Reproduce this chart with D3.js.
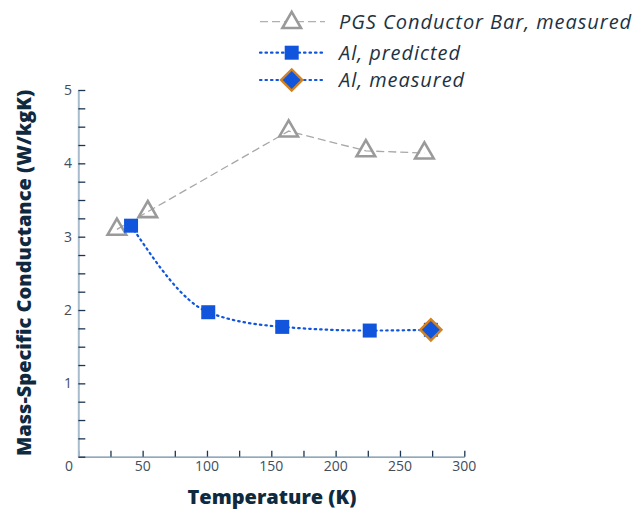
<!DOCTYPE html>
<html><head><meta charset="utf-8">
<script src="https://cdn.jsdelivr.net/npm/d3@7"></script>
<style>body{margin:0;background:#fff}svg{display:block}</style>
</head><body>
<svg id="c" width="636" height="512"></svg>
<script>
const pgsT = [30, 54, 163.5, 223.5, 269];
const pgsV = [3.10, 3.34, 4.44, 4.17, 4.14];
const alPredT = [41, 101, 158.5, 226.5, 274];
const alPredV = [3.15, 1.97, 1.77, 1.72, 1.73];
const alMeasT = [274];
const alMeasV = [1.73];
const xTicks = [0, 50, 100, 150, 200, 250, 300];
const yTicks = [1, 2, 3, 4, 5];
const legendLabels = ["PGS Conductor Bar, measured", "Al, predicted", "Al, measured"];

const svg = d3.select("#c");
const font = "'Open Sans', Lato, sans-serif";
const x = d3.scaleLinear().domain([0, 300]).range([78.3, 464.3]);
const y = d3.scaleLinear().domain([0, 5]).range([456.7, 90]);

// axes
const gx = svg.append("g").attr("transform", `translate(0,${y(0)})`)
  .call(d3.axisBottom(x).tickValues(d3.range(0, 301, 25)).tickSizeInner(-6).tickSizeOuter(0).tickFormat(""));
gx.select(".domain").attr("stroke", "#6f8ba6").attr("stroke-width", 1.3);
gx.selectAll(".tick line").attr("stroke", "#1b3552").attr("stroke-width", 1.3);
const gy = svg.append("g").attr("transform", `translate(${x(0)},0)`)
  .call(d3.axisLeft(y).tickValues(d3.range(0, 5.01, 0.25)).tickSizeInner(-7).tickSizeOuter(0).tickFormat(""));
gy.select(".domain").attr("stroke", "#a9bccd").attr("stroke-width", 2);
gy.selectAll(".tick line").attr("stroke", "#1b3552").attr("stroke-width", 1.3);

const labCol = "#3f4e5b";
svg.append("g").selectAll("text").data(xTicks.filter(d => d > 0)).join("text")
  .attr("x", d => x(d)).attr("y", 471).attr("text-anchor", "middle")
  .attr("font-family", font).attr("font-size", 14).attr("fill", labCol).text(d => d);
svg.append("g").selectAll("text").data(yTicks).join("text")
  .attr("x", 72).attr("y", d => y(d) + 5).attr("text-anchor", "end")
  .attr("font-family", font).attr("font-size", 14).attr("fill", labCol).text(d => d);
svg.append("text").attr("x", 69).attr("y", 471).attr("text-anchor", "middle")
  .attr("font-family", font).attr("font-size", 14).attr("fill", labCol).text("0");

// titles
svg.append("text").attr("x", 272).attr("y", 504).attr("text-anchor", "middle")
  .attr("font-family", font).attr("font-weight", 800).attr("font-size", 20).attr("fill", "#0f2a3f")
  .text("Temperature (K)");
svg.append("text").attr("transform", "translate(31,273) rotate(-90)").attr("text-anchor", "middle")
  .attr("font-family", font).attr("font-weight", 800).attr("font-size", 20).attr("fill", "#0f2a3f")
  .text("Mass-Specific Conductance (W/kgK)");

const grey = "#9a9a9a", blue = "#1155dd", orange = "#d4821e";
const tri = d3.symbol().type(d3.symbolTriangle).size(150);
const sq = d3.symbol().type(d3.symbolSquare).size(196);
const dia = d3.symbol().type(d3.symbolSquare).size(225);

// PGS
const pgs = pgsT.map((t, i) => [t, pgsV[i]]);
svg.append("path").datum(pgs).attr("fill", "none").attr("stroke", "#a8a8a8").attr("stroke-width", 1.3)
  .attr("stroke-dasharray", "8,4").attr("d", d3.line().x(d => x(d[0])).y(d => y(d[1])));
svg.append("g").selectAll("path").data(pgs).join("path")
  .attr("transform", d => `translate(${x(d[0])},${y(d[1])})`).attr("d", tri)
  .attr("fill", "none").attr("stroke", grey).attr("stroke-width", 2.6);

// Al predicted
const alp = alPredT.map((t, i) => [t, alPredV[i]]);
svg.append("path").datum(alp).attr("fill", "none").attr("stroke", blue).attr("stroke-width", 2.2)
  .attr("stroke-dasharray", "1.5,4").attr("stroke-linecap", "round")
  .attr("d", d3.line().curve(d3.curveMonotoneX).x(d => x(d[0])).y(d => y(d[1])));
svg.append("g").selectAll("path").data(alp).join("path")
  .attr("transform", d => `translate(${x(d[0])},${y(d[1])})`).attr("d", sq).attr("fill", blue);

// Al measured
const alm = alMeasT.map((t, i) => [t, alMeasV[i]]);
svg.append("g").selectAll("path").data(alm).join("path")
  .attr("transform", d => `translate(${x(d[0])},${y(d[1])}) rotate(45)`).attr("d", dia)
  .attr("fill", blue).attr("stroke", orange).attr("stroke-width", 2.4);

// legend
const lg = svg.append("g");
const rows = [21.7, 52.7, 80];
legendLabels.forEach((lab, i) => {
  const yy = rows[i];
  const l = lg.append("line").attr("x1", 260).attr("x2", 325).attr("y1", yy).attr("y2", yy);
  if (i === 0) l.attr("stroke", "#b0b0b0").attr("stroke-width", 1.3).attr("stroke-dasharray", "8,4");
  else l.attr("stroke", blue).attr("stroke-width", 2.2).attr("stroke-dasharray", "1.5,4").attr("stroke-linecap", "round");
  const m = lg.append("path").attr("transform", `translate(291.7,${yy + (i === 0 ? 1 : 0)})${i === 2 ? " rotate(45)" : ""}`);
  if (i === 0) m.attr("d", tri).attr("fill", "#fff").attr("stroke", grey).attr("stroke-width", 2.6);
  else if (i === 1) m.attr("d", sq).attr("fill", blue);
  else m.attr("d", dia).attr("fill", blue).attr("stroke", orange).attr("stroke-width", 2.4);
  lg.append("text").attr("x", 339).attr("y", yy + 7).attr("font-family", font).attr("font-style", "italic")
    .attr("font-size", 20).attr("letter-spacing", 0.95).attr("fill", "#1d3344").text(lab);
});
</script>
</body></html>
